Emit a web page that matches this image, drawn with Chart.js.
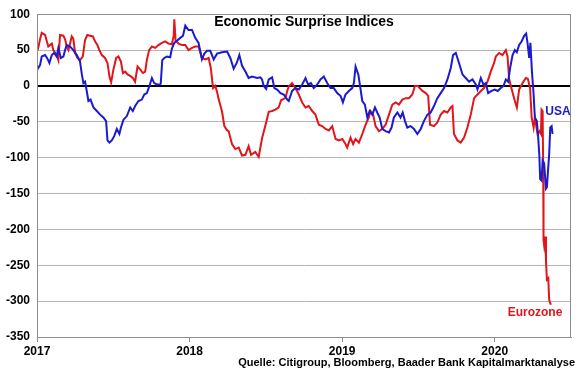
<!DOCTYPE html>
<html><head><meta charset="utf-8">
<script src="https://cdn.jsdelivr.net/npm/chart.js@4.4.1/dist/chart.umd.min.js"></script>
<style>html,body{margin:0;padding:0;background:#fff}#wrap{position:relative;width:580px;height:375px}</style>
</head><body>
<div id="wrap"><canvas id="c" width="580" height="375"></canvas></div>
<script>
const chartTitle = 'Economic Surprise Indices';
const sourceNote = 'Quelle: Citigroup, Bloomberg, Baader Bank Kapitalmarktanalyse';
const seriesNames = ['USA', 'Eurozone'];
const yearTicks = [2017, 2018, 2019, 2020];

// USA: x in decimal years, y index value
const usaDates = [2017.002,2017.020,2017.031,2017.053,2017.066,2017.081,2017.097,2017.112,2017.129,2017.140,2017.156,2017.173,2017.184,2017.195,2017.217,2017.238,2017.261,2017.282,2017.294,2017.304,2017.315,2017.326,2017.337,2017.351,2017.370,2017.392,2017.414,2017.435,2017.453,2017.462,2017.475,2017.490,2017.506,2017.523,2017.540,2017.550,2017.567,2017.589,2017.611,2017.628,2017.643,2017.665,2017.687,2017.703,2017.720,2017.737,2017.753,2017.768,2017.786,2017.803,2017.811,2017.821,2017.834,2017.852,2017.873,2017.884,2017.900,2017.917,2017.939,2017.957,2017.972,2017.993,2018.016,2018.037,2018.059,2018.081,2018.097,2018.114,2018.136,2018.158,2018.180,2018.213,2018.246,2018.267,2018.289,2018.309,2018.326,2018.344,2018.366,2018.387,2018.410,2018.443,2018.464,2018.475,2018.486,2018.502,2018.519,2018.541,2018.556,2018.574,2018.596,2018.617,2018.640,2018.650,2018.672,2018.694,2018.716,2018.738,2018.760,2018.777,2018.795,2018.814,2018.837,2018.858,2018.880,2018.902,2018.924,2018.945,2018.968,2018.990,2019.005,2019.022,2019.044,2019.066,2019.077,2019.088,2019.106,2019.121,2019.132,2019.149,2019.165,2019.180,2019.198,2019.215,2019.230,2019.246,2019.263,2019.285,2019.307,2019.324,2019.339,2019.362,2019.383,2019.397,2019.412,2019.427,2019.449,2019.471,2019.493,2019.515,2019.536,2019.559,2019.580,2019.602,2019.624,2019.646,2019.668,2019.690,2019.712,2019.727,2019.745,2019.766,2019.789,2019.810,2019.832,2019.854,2019.876,2019.887,2019.909,2019.926,2019.942,2019.957,2019.979,2020.001,2020.020,2020.040,2020.058,2020.073,2020.088,2020.101,2020.117,2020.132,2020.145,2020.160,2020.176,2020.193,2020.206,2020.215,2020.226,2020.234,2020.244,2020.255,2020.263,2020.276,2020.285,2020.292,2020.298,2020.307,2020.314,2020.324,2020.336,2020.342,2020.351,2020.357,2020.364,2020.373,2020.379];
const usaValues = [23,29,41,43,39,32,43,46,41,53,39,41,50,57,55,50,43,34,16,4,6,-7,-21,-19,-30,-35,-40,-44,-49,-76,-79,-76,-70,-60,-67,-58,-47,-42,-30,-35,-28,-21,-19,-12,-10,0,11,4,2,2,3,36,39,41,40,52,60,63,67,70,84,78,78,67,60,37,45,49,49,37,45,47,48,39,24,32,43,28,20,11,13,11,12,9,0,-4,9,12,-3,-5,-10,-12,-19,-21,-7,-3,-5,2,11,2,4,-3,2,9,13,4,-3,-3,-10,-14,-23,-12,-7,-3,4,27,16,-5,-21,-26,-44,-35,-40,-30,-37,-44,-60,-63,-65,-58,-44,-37,-44,-37,-49,-58,-56,-60,-67,-60,-49,-40,-37,-28,-17,-10,-3,9,25,43,46,32,16,11,6,9,2,-5,11,2,4,-10,-7,-5,-7,-3,0,9,6,25,43,50,47,57,62,70,73,60,39,60,20,-12,-44,-49,-72,-95,-130,-132,-104,-108,-143,-141,-113,-95,-58,-56,-67];

// Eurozone
const ezDates = [2017.005,2017.020,2017.031,2017.053,2017.074,2017.097,2017.107,2017.129,2017.140,2017.151,2017.173,2017.184,2017.195,2017.206,2017.228,2017.238,2017.250,2017.265,2017.282,2017.300,2017.315,2017.330,2017.348,2017.366,2017.381,2017.396,2017.409,2017.425,2017.446,2017.462,2017.475,2017.486,2017.501,2017.519,2017.534,2017.550,2017.563,2017.578,2017.593,2017.611,2017.628,2017.643,2017.659,2017.676,2017.694,2017.709,2017.720,2017.735,2017.753,2017.775,2017.796,2017.819,2017.840,2017.862,2017.884,2017.896,2017.900,2017.908,2017.928,2017.950,2017.972,2017.993,2018.016,2018.037,2018.059,2018.081,2018.103,2018.125,2018.139,2018.154,2018.169,2018.182,2018.190,2018.213,2018.228,2018.246,2018.256,2018.278,2018.300,2018.322,2018.344,2018.366,2018.387,2018.403,2018.431,2018.453,2018.475,2018.497,2018.519,2018.541,2018.563,2018.584,2018.600,2018.617,2018.628,2018.640,2018.650,2018.672,2018.694,2018.716,2018.738,2018.760,2018.781,2018.804,2018.825,2018.847,2018.869,2018.891,2018.913,2018.935,2018.957,2018.978,2019.001,2019.022,2019.033,2019.055,2019.072,2019.088,2019.110,2019.132,2019.154,2019.175,2019.186,2019.203,2019.219,2019.241,2019.263,2019.285,2019.307,2019.329,2019.351,2019.372,2019.395,2019.416,2019.438,2019.460,2019.477,2019.495,2019.526,2019.548,2019.564,2019.576,2019.602,2019.624,2019.646,2019.668,2019.690,2019.712,2019.723,2019.733,2019.756,2019.777,2019.799,2019.821,2019.843,2019.865,2019.887,2019.909,2019.930,2019.953,2019.974,2019.996,2020.007,2020.029,2020.051,2020.073,2020.084,2020.095,2020.117,2020.132,2020.145,2020.160,2020.183,2020.204,2020.217,2020.232,2020.242,2020.255,2020.263,2020.281,2020.293,2020.303,2020.307,2020.314,2020.318,2020.320,2020.324,2020.331,2020.336,2020.342,2020.351,2020.357,2020.368];
const ezValues = [50,65,74,71,55,59,50,43,36,71,70,65,55,50,69,66,46,39,36,41,64,71,70,69,62,57,50,43,39,32,13,5,23,39,41,34,18,20,16,14,11,6,27,23,18,20,36,50,55,53,57,60,62,59,58,70,93,64,59,57,57,50,53,55,55,39,37,39,25,-3,0,-10,-18,-36,-56,-62,-63,-81,-88,-86,-97,-96,-84,-96,-92,-99,-73,-55,-36,-35,-33,-30,-20,-18,-17,-7,-1,4,-3,-12,-23,-30,-28,-35,-40,-54,-56,-60,-62,-56,-74,-76,-74,-81,-86,-72,-81,-74,-79,-67,-54,-44,-35,-40,-56,-63,-60,-54,-40,-26,-23,-26,-19,-17,-17,-12,0,0,-7,-10,-14,-54,-56,-51,-40,-35,-37,-30,-28,-67,-76,-79,-72,-58,-40,-17,-12,-7,-3,6,20,32,41,46,43,50,41,9,-9,-21,-30,-5,4,11,10,-3,-44,-58,-44,-67,-63,-67,-33,-35,-123,-215,-222,-210,-243,-270,-268,-298,-305];

const toPoints = (xs, ys) => xs.map((x, i) => ({x: x, y: ys[i]}));
const FONT = "'Liberation Sans', Arial, sans-serif";

const decor = {
  id: 'decor',
  afterDraw(chart) {
    const {ctx, chartArea: a} = chart;
    ctx.save();
    ctx.strokeStyle = '#8c8c8c';
    ctx.lineWidth = 1;
    ctx.strokeRect(Math.round(a.left) + 0.5, Math.round(a.top) + 0.5, Math.round(a.right - a.left) - 1, Math.round(a.bottom - a.top));
    ctx.textBaseline = 'middle';
    ctx.fillStyle = '#000';
    ctx.font = 'bold 14px ' + FONT;
    ctx.textAlign = 'center';
    ctx.fillText(chartTitle, 304, 22);
    ctx.font = 'bold 12px ' + FONT;
    ctx.fillStyle = '#1a1ad0';
    ctx.fillText(seriesNames[0], 558, 112);
    ctx.fillStyle = '#e0161b';
    ctx.fillText(seriesNames[1], 535, 313);
    ctx.fillStyle = '#000';
    ctx.textAlign = 'right';
    ctx.font = 'bold 11px ' + FONT;
    ctx.fillText(sourceNote, 575, 363);
    ctx.restore();
  }
};

new Chart(document.getElementById('c'), {
  type: 'line',
  data: {
    datasets: [
      {label: seriesNames[0], data: toPoints(usaDates, usaValues), borderColor: '#1a1ad0', borderWidth: 2, pointRadius: 0, tension: 0, fill: false},
      {label: seriesNames[1], data: toPoints(ezDates, ezValues), borderColor: '#e0161b', borderWidth: 2, pointRadius: 0, tension: 0, fill: false}
    ]
  },
  options: {
    responsive: false,
    animation: false,
    devicePixelRatio: 1,
    layout: {padding: {left: 0, right: 9, top: 11, bottom: 0}},
    plugins: {legend: {display: false}, tooltip: {enabled: false}, title: {display: false}},
    scales: {
      x: {
        type: 'linear', min: 2017, max: 2020.5,
        afterBuildTicks: s => { s.ticks = yearTicks.map(v => ({value: v})); },
        afterFit: s => { s.height = 38; },
        ticks: {callback: v => String(v), color: '#000', font: {family: FONT, size: 12, weight: 'bold'}, maxRotation: 0, autoSkip: false, padding: 2},
        grid: {drawOnChartArea: false, drawTicks: true, tickLength: 5, color: '#8c8c8c'},
        border: {color: '#8c8c8c', width: 1}
      },
      y: {
        min: -350, max: 100,
        afterFit: s => { s.width = 37; },
        ticks: {stepSize: 50, color: '#000', font: {family: FONT, size: 12, weight: 'bold'}, padding: 7},
        grid: {drawTicks: false, color: c => c.tick && c.tick.value === 0 ? '#000' : '#b4b4b4', lineWidth: c => c.tick && c.tick.value === 0 ? 2 : 1},
        border: {color: '#8c8c8c', width: 1}
      }
    }
  },
  plugins: [decor]
});
</script>
</body></html>
